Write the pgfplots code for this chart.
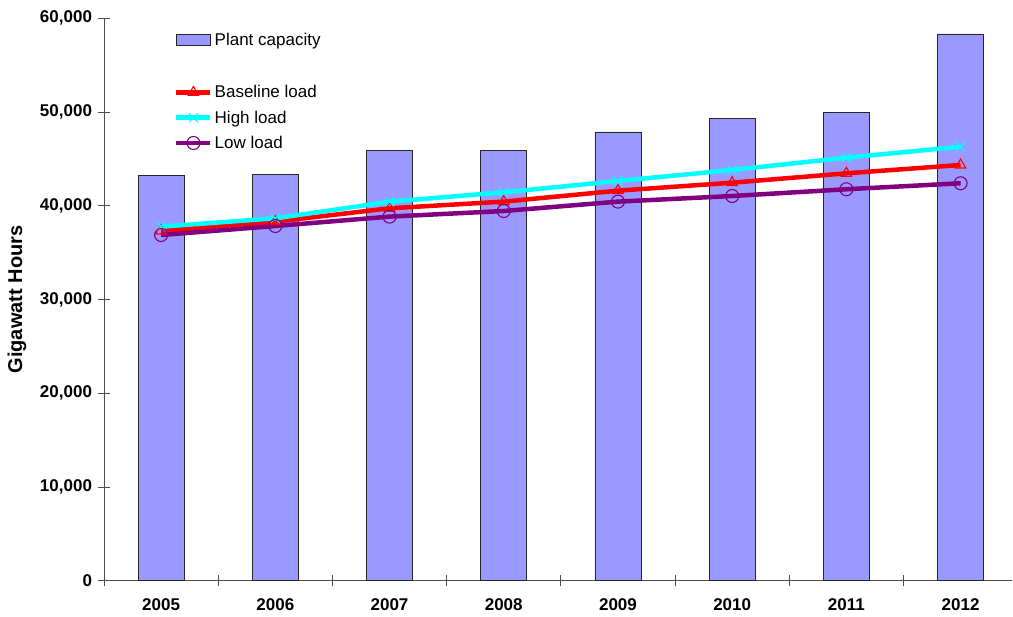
\documentclass[border=0pt]{standalone}
\usepackage{pgfplots}
\pgfplotsset{compat=1.18}
\usepackage{fontspec}
\setmainfont{Liberation Sans}
\definecolor{barblue}{HTML}{9999FF}
\definecolor{lowpurple}{HTML}{800080}
\definecolor{highcyan}{HTML}{00FFFF}
\definecolor{basered}{HTML}{FF0000}
\pgfplotsset{
  barlegend/.style={legend image code/.code={\draw[fill=barblue, draw=black!85, line width=0.8pt] (0pt,-5.5pt) rectangle (34pt,5.5pt);}},
}
\begin{document}
\begin{tikzpicture}[x=1pt,y=1pt]
\begin{axis}[
  scale only axis,
  width=908pt, height=562.4pt,
  xmin=-0.5, xmax=7.45,
  ymin=0, ymax=60000,
  axis x line=bottom, axis y line=left,
  axis line style={draw=black!70, line width=0.8pt, -},
  xtick={0,...,7},
  xticklabels={2005,2006,2007,2008,2009,2010,2011,2012},
  x tick style={draw=none},
  minor xtick={-0.5,0.5,1.5,2.5,3.5,4.5,5.5,6.5},
  minor x tick style={draw=black!70, line width=0.8pt},
  minor tick length=11pt,
  ytick={0,10000,20000,30000,40000,50000,60000},
  y tick style={draw=black!70, line width=0.8pt},
  major tick length=11pt,
  tick align=center,
  scaled y ticks=false,
  yticklabel={\pgfmathprintnumber[fixed,1000 sep={,}]{\tick}},
  /pgf/number format/assume math mode=true,
  tick label style={font=\fontsize{17}{20}\selectfont\bfseries},
  xticklabel style={yshift=-9pt},
  yticklabel style={xshift=-3pt},
  ylabel={Gigawatt Hours},
  ylabel style={font=\fontsize{20}{24}\selectfont\bfseries, at={(axis description cs:-0.0958,0.5)}, anchor=center},
  legend style={draw=none, fill=none, at={(axis cs:0.113,58650)}, anchor=north west,
    font=\fontsize{17}{20}\selectfont, row sep=7.5pt, inner sep=0pt,
    /tikz/every even column/.append style={column sep=3pt}},
  legend cell align=left,
  legend image code/.code={\draw[mark repeat=2,mark phase=2,#1] plot coordinates {(0pt,0pt) (17pt,0pt) (34pt,0pt)};},
  clip=false,
]
\addplot[ybar, bar width=46pt, fill=barblue, draw=black!85, line width=0.8pt, barlegend]
  coordinates {(0,43210) (1,43360) (2,45880) (3,45880) (4,47870) (5,49290) (6,50000) (7,58330)};
\addlegendentry{Plant capacity}
\addlegendimage{empty legend}
\addlegendentry{\strut}
\addplot[basered, line width=4.5pt, mark=triangle, mark size=6pt, mark options={line width=1.1pt, solid, fill=none}]
  coordinates {(0,37310) (1,38300) (2,39730) (3,40440) (4,41610) (5,42460) (6,43460) (7,44350)};
\addlegendentry{Baseline load}
\addplot[highcyan, line width=4.5pt, mark=x, mark size=6.5pt, mark options={line width=1.2pt}]
  coordinates {(0,37770) (1,38660) (2,40430) (3,41440) (4,42640) (5,43820) (6,45130) (7,46300)};
\addlegendentry{High load}
\addplot[lowpurple, line width=4.5pt, mark=o, mark size=6.5pt, mark options={line width=1.1pt, fill=none}]
  coordinates {(0,36880) (1,37840) (2,38840) (3,39440) (4,40440) (5,41040) (6,41760) (7,42400)};
\addlegendentry{Low load}
\end{axis}
\pgfresetboundingbox
\path (-104pt,-36.3pt) rectangle (909pt,580.7pt);
\end{tikzpicture}
\end{document}
